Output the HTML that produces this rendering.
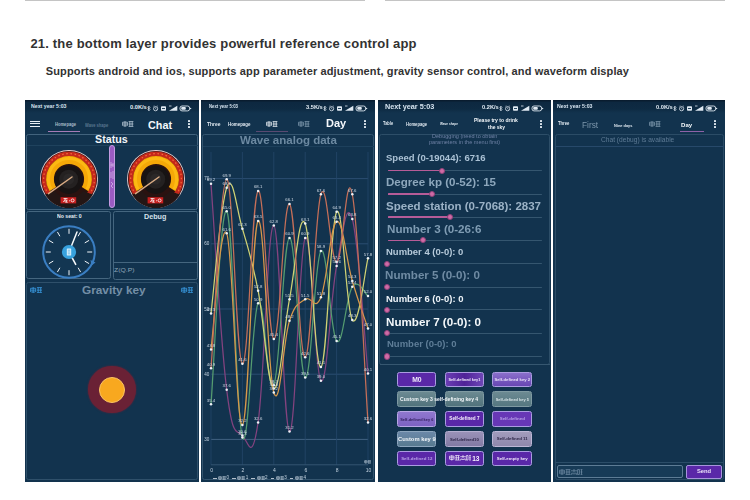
<!DOCTYPE html>
<html><head><meta charset="utf-8">
<style>
*{margin:0;padding:0;box-sizing:border-box}
html,body{width:750px;height:500px;overflow:hidden;background:#fff;font-family:"Liberation Sans",sans-serif}
#h1{position:absolute;left:30.4px;top:36.1px;font-size:13px;font-weight:bold;color:#323232;white-space:nowrap;line-height:16px;letter-spacing:0.19px}
#h2{position:absolute;left:45.8px;top:63.9px;font-size:11px;font-weight:bold;color:#323232;white-space:nowrap;line-height:14px;letter-spacing:0.13px}
.tl{position:absolute;top:0;height:1.2px;background:#c4c4c4}
.ph{position:absolute;top:100px;height:381.5px;background:#12334e}
.r{position:absolute;display:block}
.t{position:absolute;display:block;white-space:nowrap;font-weight:bold;transform-origin:0 50%}
</style></head><body>
<div class="tl" style="left:25px;width:340px"></div>
<div class="tl" style="left:385px;width:340px"></div>
<div id="h1">21. the bottom layer provides powerful reference control app</div>
<div id="h2">Supports android and ios, supports app parameter adjustment, gravity sensor control, and waveform display</div>

<div id="phones" style="position:absolute;left:0;top:90px;width:750px;height:410px;filter:blur(0.45px)"><div style="position:absolute;left:0;top:-90px;width:750px;height:500px">
<div class="ph" style="left:25px;width:173.70px"></div>
<div class="ph" style="left:201.3px;width:173.90px"></div>
<div class="ph" style="left:377.8px;width:173.40px"></div>
<div class="ph" style="left:553px;width:171.80px"></div>
<div class="r" style="left:25.00px;top:100.00px;width:173.70px;height:13.00px;background:linear-gradient(#08192a 0,#0d2840 2.5px,#0e2b43 70%,#12334e 100%);"></div>
<span class="t" style="left:31.00px;top:103.86px;font-size:5.6px;line-height:5.6px;color:#d5e3ef;transform:scaleX(0.9348);">Next year 5:03</span>
<span class="t" style="left:130.00px;top:105.09px;font-size:5.8px;line-height:5.8px;color:#e4edf5;transform:scaleX(0.9832);">0.0K/s</span>
<svg class="r" style="left:147.30px;top:104.8px" width="46" height="7" viewBox="0 0 46 7"><path d="M0.6 2L3 4.6L1.7 6V1L3 2.4L0.6 5" stroke="#dfe9f2" stroke-width="0.7" fill="none"/><circle cx="8.6" cy="3.7" r="2.1" stroke="#dfe9f2" stroke-width="0.8" fill="none"/><path d="M8.6 2.5V3.8L9.5 4.3M6.4 1.3L7.3 0.6M10.8 1.3L9.9 0.6" stroke="#dfe9f2" stroke-width="0.6" fill="none"/><rect x="14" y="1.2" width="5" height="4.6" rx="0.8" fill="#dfe9f2"/><path d="M15 3.5H18" stroke="#12334e" stroke-width="0.9"/><path d="M22 5.8L30.3 0.8V5.8Z" fill="#dfe9f2"/><path d="M22 1H24.5" stroke="#dfe9f2" stroke-width="0.8"/><rect x="33" y="1" width="9.6" height="4.9" rx="2" stroke="#dfe9f2" stroke-width="0.9" fill="none"/><rect x="34.2" y="2.1" width="4.6" height="2.7" rx="1" fill="#dfe9f2"/><path d="M42.8 2.4L44.6 3.5L42.8 4.6Z" fill="#dfe9f2"/></svg>
<div class="r" style="left:30.30px;top:120.60px;width:9.70px;height:1.15px;background:#e6eef5;"></div>
<div class="r" style="left:30.30px;top:123.30px;width:9.70px;height:1.15px;background:#e6eef5;"></div>
<div class="r" style="left:30.30px;top:126.00px;width:9.70px;height:1.15px;background:#e6eef5;"></div>
<span class="t" style="left:55.00px;top:123.21px;font-size:4.6px;line-height:4.6px;color:#a9bccb;transform:scaleX(0.8930);">Homepage</span>
<span class="t" style="left:84.50px;top:123.61px;font-size:4.6px;line-height:4.6px;color:#58768f;transform:scaleX(0.8820);">Wave shape</span>
<svg class="r" style="left:122.00px;top:120.60px;opacity:1" width="12.00" height="6.00" viewBox="0 0 20 10"><path transform="translate(0,0)" d="M1 2H9M5 0V10M1 5H9M2 8H8M1 2V8M9 2V8" stroke="#b9cad8" stroke-width="1.3" fill="none"/><path transform="translate(10,0)" d="M1 1H9M3 1V9M7 1V9M1 5H9M1 9H9" stroke="#b9cad8" stroke-width="1.3" fill="none"/></svg>
<span class="t" style="left:147.90px;top:118.98px;font-size:11.6px;line-height:11.6px;color:#f4f8fb;transform:scaleX(0.9311);">Chat</span>
<div class="r" style="left:188.10px;top:120.00px;width:1.80px;height:1.80px;background:#e8eff6;border-radius:0.4px"></div>
<div class="r" style="left:188.10px;top:123.00px;width:1.80px;height:1.80px;background:#e8eff6;border-radius:0.4px"></div>
<div class="r" style="left:188.10px;top:126.00px;width:1.80px;height:1.80px;background:#e8eff6;border-radius:0.4px"></div>
<div class="r" style="left:47.80px;top:131.20px;width:31.90px;height:1.10px;background:#a57bb6;"></div>
<div class="r" style="left:26.00px;top:133.80px;width:172.00px;height:76.40px;border:0.9px solid #42637d;border-radius:2.5px;"></div>
<div class="r" style="left:26.50px;top:144.90px;width:171.00px;height:0.60px;background:#1f425d;"></div>
<span class="t" style="left:95.00px;top:133.89px;font-size:11px;line-height:11px;color:#f2f6fa;transform:scaleX(0.9728);">Status</span>
<svg class="r" style="left:37.60px;top:147.70px" width="62" height="62" viewBox="-31 -31 62 62"><circle r="29" fill="#e9cfd2"/><circle r="28.1" fill="#2a1210"/><path d="M-19.51 15.80A25.1 25.1 0 1 1 19.51 15.80" stroke="#c5281b" stroke-width="4.6" fill="none"/><path d="M-20.29 15.29A25.4 25.4 0 1 1 20.29 15.29" stroke="#f0683a" stroke-width="1.3" fill="none" stroke-dasharray="1.5 2.6"/><path d="M-16.11 10.07A19.0 19.0 0 1 1 16.11 10.07" stroke="#f5a808" stroke-width="7.8" fill="none"/><path d="M-17.84 10.30A20.6 20.6 0 1 1 17.84 10.30" stroke="#fdb913" stroke-width="3" fill="none"/><circle cx="-0.3" cy="0.8" r="14.1" fill="#171313"/><circle cx="-0.3" cy="0.2" r="9.5" fill="#242121"/><circle cx="-0.3" cy="0" r="5.5" fill="#2b2828"/><path d="M-14 12L-24 15.5A28 28 0 0 0 24 15.5L14 12A17 17 0 0 1 -14 12Z" fill="#241615"/><path d="M3 -2L-20.5 14.6" stroke="#d9ab84" stroke-width="1.5" stroke-linecap="round"/><rect x="-8.4" y="18.2" width="15.6" height="6.2" fill="#c7201f"/><path d="M-5.5 19.5H-1.5M-4 19V23M-5.8 23L-3.8 20.5M-3.6 21.2H-1.4M-2.5 21.2V23.2M-3.8 23.2H-1.2" stroke="#fff" stroke-width="0.7" fill="none"/><circle cx="0.6" cy="21.8" r="0.5" fill="#fff"/><circle cx="3.6" cy="21.4" r="1.5" stroke="#fff" stroke-width="0.8" fill="none"/></svg>
<svg class="r" style="left:124.60px;top:147.80px" width="62" height="62" viewBox="-31 -31 62 62"><circle r="29" fill="#e9cfd2"/><circle r="28.1" fill="#2a1210"/><path d="M-19.51 15.80A25.1 25.1 0 1 1 19.51 15.80" stroke="#c5281b" stroke-width="4.6" fill="none"/><path d="M-20.29 15.29A25.4 25.4 0 1 1 20.29 15.29" stroke="#f0683a" stroke-width="1.3" fill="none" stroke-dasharray="1.5 2.6"/><path d="M-16.11 10.07A19.0 19.0 0 1 1 16.11 10.07" stroke="#f5a808" stroke-width="7.8" fill="none"/><path d="M-17.84 10.30A20.6 20.6 0 1 1 17.84 10.30" stroke="#fdb913" stroke-width="3" fill="none"/><circle cx="-0.3" cy="0.8" r="14.1" fill="#171313"/><circle cx="-0.3" cy="0.2" r="9.5" fill="#242121"/><circle cx="-0.3" cy="0" r="5.5" fill="#2b2828"/><path d="M-14 12L-24 15.5A28 28 0 0 0 24 15.5L14 12A17 17 0 0 1 -14 12Z" fill="#241615"/><path d="M3 -2L-20.5 14.6" stroke="#d9ab84" stroke-width="1.5" stroke-linecap="round"/><rect x="-8.4" y="18.2" width="15.6" height="6.2" fill="#c7201f"/><path d="M-5.5 19.5H-1.5M-4 19V23M-5.8 23L-3.8 20.5M-3.6 21.2H-1.4M-2.5 21.2V23.2M-3.8 23.2H-1.2" stroke="#fff" stroke-width="0.7" fill="none"/><circle cx="0.6" cy="21.8" r="0.5" fill="#fff"/><circle cx="3.6" cy="21.4" r="1.5" stroke="#fff" stroke-width="0.8" fill="none"/></svg>
<div class="r" style="left:108.90px;top:145.30px;width:6.50px;height:63.20px;background:#9a5bc2;border-radius:3.2px;border:0.7px solid #c49be2"></div>
<svg class="r" style="left:110.2px;top:160px" width="4" height="30" viewBox="0 0 4 30"><path d="M1 2V8M3 3V7M0.5 5H3.5M1 12V18M3 11V19M1 22L3 24L1 26L3 28" stroke="#e6d3f3" stroke-width="0.7" fill="none" opacity="0.85"/></svg>
<div class="r" style="left:26.00px;top:210.80px;width:85.00px;height:68.60px;border:0.9px solid #45667f;border-radius:2.5px;"></div>
<div class="r" style="left:113.00px;top:210.80px;width:85.20px;height:69.30px;border:0.9px solid #45667f;border-radius:2.5px;"></div>
<span class="t" style="left:57.30px;top:214.36px;font-size:5.6px;line-height:5.6px;color:#e9f0f6;transform:scaleX(0.9230);">No seat: 0</span>
<span class="t" style="left:144.40px;top:213.28px;font-size:7.7px;line-height:7.7px;color:#d6e2ec;transform:scaleX(0.9352);">Debug</span>
<div class="r" style="left:113.50px;top:262.20px;width:84.50px;height:0.90px;background:#45667f;"></div>
<span class="t" style="left:114.00px;top:267.96px;font-size:5.6px;line-height:5.6px;color:#8ea5b8;font-weight:normal;transform:scaleX(1.2205);">Z(Q.P)</span>
<svg class="r" style="left:38.70px;top:221.60px" width="60" height="60" viewBox="-30 -30 60 60"><circle r="25.8" stroke="#3a7ec2" stroke-width="2" fill="#133652"/><path d="M0.00 -18.20L0.00 -23.20" stroke="#f1f5f9" stroke-width="1"/><path d="M9.10 -15.76L11.60 -20.09" stroke="#f1f5f9" stroke-width="1"/><path d="M15.76 -9.10L20.09 -11.60" stroke="#f1f5f9" stroke-width="1"/><path d="M18.20 -0.00L23.20 -0.00" stroke="#f1f5f9" stroke-width="1"/><path d="M15.76 9.10L20.09 11.60" stroke="#f1f5f9" stroke-width="1"/><path d="M9.10 15.76L11.60 20.09" stroke="#f1f5f9" stroke-width="1"/><path d="M0.00 18.20L0.00 23.20" stroke="#f1f5f9" stroke-width="1"/><path d="M-9.10 15.76L-11.60 20.09" stroke="#f1f5f9" stroke-width="1"/><path d="M-15.76 9.10L-20.09 11.60" stroke="#f1f5f9" stroke-width="1"/><path d="M-18.20 0.00L-23.20 0.00" stroke="#f1f5f9" stroke-width="1"/><path d="M-15.76 -9.10L-20.09 -11.60" stroke="#f1f5f9" stroke-width="1"/><path d="M-9.10 -15.76L-11.60 -20.09" stroke="#f1f5f9" stroke-width="1"/><path d="M0 0L8 -20" stroke="#f7fafc" stroke-width="1.5" stroke-linecap="round"/><path d="M0 0L6.7 12.3" stroke="#f7fafc" stroke-width="1.6" stroke-linecap="round"/><circle r="7.1" fill="#38a2de"/><rect x="-2.2" y="-3.6" width="4.4" height="7.2" rx="0.6" fill="#d9f0fb"/><path d="M-1.2 -1.8H1.2M-1.2 0H1.2M-1.2 1.8H1.2" stroke="#38a2de" stroke-width="0.6"/><path d="M21.5 8L26.5 10.5L22.5 13.5Z" fill="#3a7ec2"/></svg>
<div class="r" style="left:26.00px;top:281.60px;width:172.00px;height:198.60px;border:0.9px solid #2f506a;border-radius:2.5px;"></div>
<svg class="r" style="left:29.80px;top:287.00px;opacity:1" width="12.60" height="6.30" viewBox="0 0 20 10"><path transform="translate(0,0)" d="M1 2H9M5 0V10M1 5H9M2 8H8M1 2V8M9 2V8" stroke="#3a9be2" stroke-width="1.3" fill="none"/><path transform="translate(10,0)" d="M1 1H9M3 1V9M7 1V9M1 5H9M1 9H9" stroke="#3a9be2" stroke-width="1.3" fill="none"/></svg>
<svg class="r" style="left:181.40px;top:287.00px;opacity:1" width="12.60" height="6.30" viewBox="0 0 20 10"><path transform="translate(0,0)" d="M1 2H9M5 0V10M1 5H9M2 8H8M1 2V8M9 2V8" stroke="#3a9be2" stroke-width="1.3" fill="none"/><path transform="translate(10,0)" d="M1 1H9M3 1V9M7 1V9M1 5H9M1 9H9" stroke="#3a9be2" stroke-width="1.3" fill="none"/></svg>
<span class="t" style="left:81.60px;top:284.48px;font-size:11.6px;line-height:11.6px;color:#748fa6;transform:scaleX(1.0184);">Gravity key</span>
<div class="r" style="left:88.40px;top:366.20px;width:47.20px;height:47.20px;background:#6a2135;border-radius:50%;box-shadow:0 0 2px #6a2135"></div>
<div class="r" style="left:98.90px;top:377.00px;width:26.20px;height:26.20px;background:#f8a81f;border-radius:50%;border:0.8px solid #fbc463"></div>
<div class="r" style="left:201.30px;top:100.00px;width:173.90px;height:13.00px;background:linear-gradient(#08192a 0,#0d2840 2.5px,#0e2b43 70%,#12334e 100%);"></div>
<span class="t" style="left:209.00px;top:104.71px;font-size:4.6px;line-height:4.6px;color:#d5e3ef;transform:scaleX(0.9296);">Next year 5:03</span>
<span class="t" style="left:305.50px;top:105.09px;font-size:5.8px;line-height:5.8px;color:#e4edf5;transform:scaleX(0.9832);">3.5K/s</span>
<svg class="r" style="left:322.80px;top:104.8px" width="46" height="7" viewBox="0 0 46 7"><path d="M0.6 2L3 4.6L1.7 6V1L3 2.4L0.6 5" stroke="#dfe9f2" stroke-width="0.7" fill="none"/><circle cx="8.6" cy="3.7" r="2.1" stroke="#dfe9f2" stroke-width="0.8" fill="none"/><path d="M8.6 2.5V3.8L9.5 4.3M6.4 1.3L7.3 0.6M10.8 1.3L9.9 0.6" stroke="#dfe9f2" stroke-width="0.6" fill="none"/><rect x="14" y="1.2" width="5" height="4.6" rx="0.8" fill="#dfe9f2"/><path d="M15 3.5H18" stroke="#12334e" stroke-width="0.9"/><path d="M22 5.8L30.3 0.8V5.8Z" fill="#dfe9f2"/><path d="M22 1H24.5" stroke="#dfe9f2" stroke-width="0.8"/><rect x="33" y="1" width="9.6" height="4.9" rx="2" stroke="#dfe9f2" stroke-width="0.9" fill="none"/><rect x="34.2" y="2.1" width="4.6" height="2.7" rx="1" fill="#dfe9f2"/><path d="M42.8 2.4L44.6 3.5L42.8 4.6Z" fill="#dfe9f2"/></svg>
<span class="t" style="left:207.00px;top:121.96px;font-size:5.6px;line-height:5.6px;color:#dfe8f0;transform:scaleX(0.8788);">Three</span>
<span class="t" style="left:227.60px;top:122.54px;font-size:4.8px;line-height:4.8px;color:#dfe8f0;transform:scaleX(0.9129);">Homepage</span>
<svg class="r" style="left:266.00px;top:120.60px;opacity:1" width="12.00" height="6.00" viewBox="0 0 20 10"><path transform="translate(0,0)" d="M1 2H9M5 0V10M1 5H9M2 8H8M1 2V8M9 2V8" stroke="#eef3f8" stroke-width="1.3" fill="none"/><path transform="translate(10,0)" d="M1 1H9M3 1V9M7 1V9M1 5H9M1 9H9" stroke="#eef3f8" stroke-width="1.3" fill="none"/></svg>
<svg class="r" style="left:298.00px;top:120.80px;opacity:1" width="12.00" height="6.00" viewBox="0 0 20 10"><path transform="translate(0,0)" d="M1 2H9M5 0V10M1 5H9M2 8H8M1 2V8M9 2V8" stroke="#7f99ae" stroke-width="1.3" fill="none"/><path transform="translate(10,0)" d="M1 1H9M3 1V9M7 1V9M1 5H9M1 9H9" stroke="#7f99ae" stroke-width="1.3" fill="none"/></svg>
<span class="t" style="left:325.50px;top:118.12px;font-size:11.2px;line-height:11.2px;color:#f6f9fc;transform:scaleX(0.9832);">Day</span>
<div class="r" style="left:364.00px;top:120.00px;width:1.80px;height:1.80px;background:#e8eff6;border-radius:0.4px"></div>
<div class="r" style="left:364.00px;top:123.00px;width:1.80px;height:1.80px;background:#e8eff6;border-radius:0.4px"></div>
<div class="r" style="left:364.00px;top:126.00px;width:1.80px;height:1.80px;background:#e8eff6;border-radius:0.4px"></div>
<div class="r" style="left:256.40px;top:131.20px;width:31.20px;height:1.10px;background:#5a4a72;"></div>
<div class="r" style="left:202.20px;top:133.80px;width:172.00px;height:346.50px;border:0.9px solid #34556f;border-radius:2.5px;"></div>
<div class="r" style="left:202.80px;top:146.20px;width:171.00px;height:0.60px;background:#1d405c;"></div>
<span class="t" style="left:240.00px;top:134.69px;font-size:11px;line-height:11px;color:#6c89a1;transform:scaleX(1.0465);">Wave analog data</span>
<svg class="r" style="left:0;top:0" width="750" height="500" viewBox="0 0 750 500"><path d="M211.0 439.40H368.0" stroke="#4c6f8e" stroke-width="0.8"/><path d="M211.0 374.20H368.0" stroke="#31547a" stroke-width="0.8"/><path d="M211.0 309.00H368.0" stroke="#31547a" stroke-width="0.8"/><path d="M211.0 243.80H368.0" stroke="#31547a" stroke-width="0.8"/><path d="M211.0 178.60H368.0" stroke="#31547a" stroke-width="0.8"/><path d="M211.00 152V464.8" stroke="#24476a" stroke-width="0.8"/><path d="M242.40 152V464.8" stroke="#24476a" stroke-width="0.8"/><path d="M273.80 152V464.8" stroke="#24476a" stroke-width="0.8"/><path d="M305.20 152V464.8" stroke="#24476a" stroke-width="0.8"/><path d="M336.60 152V464.8" stroke="#24476a" stroke-width="0.8"/><path d="M368.00 152V464.8" stroke="#24476a" stroke-width="0.8"/><path d="M211.0 464.8H368.0" stroke="#3c5d7a" stroke-width="0.8"/><path d="M211.00 183.82C214.14 225.02 220.42 339.51 226.70 389.85C232.98 440.18 236.12 428.97 242.40 435.49C248.68 442.01 251.82 464.44 258.10 422.45C264.38 380.46 267.52 223.72 273.80 225.54C280.08 227.37 283.22 429.10 289.50 431.58C295.78 434.05 298.92 248.10 305.20 237.93C311.48 227.76 314.62 375.11 320.90 380.72C327.18 386.33 330.32 298.31 336.60 265.97C342.88 233.63 346.02 197.51 352.30 219.02C358.58 240.54 364.86 342.64 368.00 373.55" stroke="#84437f" stroke-width="1.25" fill="none" stroke-linejoin="round"/><path d="M211.00 404.19C214.14 365.59 220.42 204.55 226.70 211.20C232.98 217.85 236.12 419.06 242.40 437.44C248.68 455.83 251.82 313.56 258.10 303.13C264.38 292.70 267.52 398.32 273.80 385.28C280.08 372.24 283.22 239.50 289.50 237.93C295.78 236.37 298.92 374.85 305.20 377.46C311.48 380.07 314.62 258.27 320.90 250.97C327.18 243.67 330.32 333.78 336.60 340.95C342.88 348.12 346.02 295.83 352.30 286.83C358.58 277.83 364.86 294.13 368.00 295.96" stroke="#559c70" stroke-width="1.25" fill="none" stroke-linejoin="round"/><path d="M211.00 313.56C214.14 288.40 220.42 204.68 226.70 187.73C232.98 170.78 236.12 208.20 242.40 228.80C248.68 249.41 251.82 258.80 258.10 290.74C264.38 322.69 267.52 386.85 273.80 388.54C280.08 390.24 283.22 332.21 289.50 299.22C295.78 266.23 298.92 210.03 305.20 223.59C311.48 237.15 314.62 369.38 320.90 367.03C327.18 364.68 330.32 221.24 336.60 211.85C342.88 202.46 346.02 310.83 352.30 320.08C358.58 329.34 364.86 270.53 368.00 258.14" stroke="#d0d274" stroke-width="1.25" fill="none" stroke-linejoin="round"/><path d="M211.00 349.42C214.14 326.21 220.42 218.24 226.70 233.37C232.98 248.49 236.12 427.53 242.40 425.06C248.68 422.58 251.82 227.50 258.10 220.98C264.38 214.46 267.52 372.50 273.80 392.46C280.08 412.41 283.22 339.38 289.50 320.74C295.78 302.09 298.92 303.91 305.20 299.22C311.48 294.53 314.62 312.78 320.90 297.26C327.18 281.75 330.32 224.89 336.60 221.63C342.88 218.37 346.02 259.58 352.30 280.96C358.58 302.35 364.86 319.04 368.00 328.56" stroke="#d8984a" stroke-width="1.25" fill="none" stroke-linejoin="round"/><path d="M211.00 368.33C214.14 330.52 220.42 180.16 226.70 179.25C232.98 178.34 236.12 361.42 242.40 363.77C248.68 366.12 251.82 195.94 258.10 190.99C264.38 186.03 267.52 336.38 273.80 338.99C280.08 341.60 283.22 200.38 289.50 204.03C295.78 207.68 298.92 359.20 305.20 357.25C311.48 355.29 314.62 213.29 320.90 194.25C327.18 175.21 330.32 262.06 336.60 262.06C342.88 262.06 346.02 162.17 352.30 194.25C358.58 226.33 364.86 376.81 368.00 422.45" stroke="#c66f58" stroke-width="1.25" fill="none" stroke-linejoin="round"/><circle cx="211.00" cy="183.82" r="1.25" fill="#eef2f6"/><circle cx="226.70" cy="389.85" r="1.25" fill="#eef2f6"/><circle cx="242.40" cy="435.49" r="1.25" fill="#eef2f6"/><circle cx="258.10" cy="422.45" r="1.25" fill="#eef2f6"/><circle cx="273.80" cy="225.54" r="1.25" fill="#eef2f6"/><circle cx="289.50" cy="431.58" r="1.25" fill="#eef2f6"/><circle cx="305.20" cy="237.93" r="1.25" fill="#eef2f6"/><circle cx="320.90" cy="380.72" r="1.25" fill="#eef2f6"/><circle cx="336.60" cy="265.97" r="1.25" fill="#eef2f6"/><circle cx="352.30" cy="219.02" r="1.25" fill="#eef2f6"/><circle cx="368.00" cy="373.55" r="1.25" fill="#eef2f6"/><circle cx="211.00" cy="404.19" r="1.25" fill="#eef2f6"/><circle cx="226.70" cy="211.20" r="1.25" fill="#eef2f6"/><circle cx="242.40" cy="437.44" r="1.25" fill="#eef2f6"/><circle cx="258.10" cy="303.13" r="1.25" fill="#eef2f6"/><circle cx="273.80" cy="385.28" r="1.25" fill="#eef2f6"/><circle cx="289.50" cy="237.93" r="1.25" fill="#eef2f6"/><circle cx="305.20" cy="377.46" r="1.25" fill="#eef2f6"/><circle cx="320.90" cy="250.97" r="1.25" fill="#eef2f6"/><circle cx="336.60" cy="340.95" r="1.25" fill="#eef2f6"/><circle cx="352.30" cy="286.83" r="1.25" fill="#eef2f6"/><circle cx="368.00" cy="295.96" r="1.25" fill="#eef2f6"/><circle cx="211.00" cy="313.56" r="1.25" fill="#eef2f6"/><circle cx="226.70" cy="187.73" r="1.25" fill="#eef2f6"/><circle cx="242.40" cy="228.80" r="1.25" fill="#eef2f6"/><circle cx="258.10" cy="290.74" r="1.25" fill="#eef2f6"/><circle cx="273.80" cy="388.54" r="1.25" fill="#eef2f6"/><circle cx="289.50" cy="299.22" r="1.25" fill="#eef2f6"/><circle cx="305.20" cy="223.59" r="1.25" fill="#eef2f6"/><circle cx="320.90" cy="367.03" r="1.25" fill="#eef2f6"/><circle cx="336.60" cy="211.85" r="1.25" fill="#eef2f6"/><circle cx="352.30" cy="320.08" r="1.25" fill="#eef2f6"/><circle cx="368.00" cy="258.14" r="1.25" fill="#eef2f6"/><circle cx="211.00" cy="349.42" r="1.25" fill="#eef2f6"/><circle cx="226.70" cy="233.37" r="1.25" fill="#eef2f6"/><circle cx="242.40" cy="425.06" r="1.25" fill="#eef2f6"/><circle cx="258.10" cy="220.98" r="1.25" fill="#eef2f6"/><circle cx="273.80" cy="392.46" r="1.25" fill="#eef2f6"/><circle cx="289.50" cy="320.74" r="1.25" fill="#eef2f6"/><circle cx="305.20" cy="299.22" r="1.25" fill="#eef2f6"/><circle cx="320.90" cy="297.26" r="1.25" fill="#eef2f6"/><circle cx="336.60" cy="221.63" r="1.25" fill="#eef2f6"/><circle cx="352.30" cy="280.96" r="1.25" fill="#eef2f6"/><circle cx="368.00" cy="328.56" r="1.25" fill="#eef2f6"/><circle cx="211.00" cy="368.33" r="1.25" fill="#eef2f6"/><circle cx="226.70" cy="179.25" r="1.25" fill="#eef2f6"/><circle cx="242.40" cy="363.77" r="1.25" fill="#eef2f6"/><circle cx="258.10" cy="190.99" r="1.25" fill="#eef2f6"/><circle cx="273.80" cy="338.99" r="1.25" fill="#eef2f6"/><circle cx="289.50" cy="204.03" r="1.25" fill="#eef2f6"/><circle cx="305.20" cy="357.25" r="1.25" fill="#eef2f6"/><circle cx="320.90" cy="194.25" r="1.25" fill="#eef2f6"/><circle cx="336.60" cy="262.06" r="1.25" fill="#eef2f6"/><circle cx="352.30" cy="194.25" r="1.25" fill="#eef2f6"/><circle cx="368.00" cy="422.45" r="1.25" fill="#eef2f6"/><text x="211.00" y="181.22" font-size="4.3" fill="#d3dde8" text-anchor="middle" font-family="Liberation Sans">69.2</text><text x="226.70" y="387.25" font-size="4.3" fill="#d3dde8" text-anchor="middle" font-family="Liberation Sans">37.6</text><text x="242.40" y="432.89" font-size="4.3" fill="#d3dde8" text-anchor="middle" font-family="Liberation Sans">30.6</text><text x="258.10" y="419.85" font-size="4.3" fill="#d3dde8" text-anchor="middle" font-family="Liberation Sans">32.6</text><text x="273.80" y="222.94" font-size="4.3" fill="#d3dde8" text-anchor="middle" font-family="Liberation Sans">62.8</text><text x="289.50" y="428.98" font-size="4.3" fill="#d3dde8" text-anchor="middle" font-family="Liberation Sans">31.2</text><text x="305.20" y="235.33" font-size="4.3" fill="#d3dde8" text-anchor="middle" font-family="Liberation Sans">60.9</text><text x="320.90" y="378.12" font-size="4.3" fill="#d3dde8" text-anchor="middle" font-family="Liberation Sans">39.0</text><text x="336.60" y="263.37" font-size="4.3" fill="#d3dde8" text-anchor="middle" font-family="Liberation Sans">56.6</text><text x="352.30" y="216.42" font-size="4.3" fill="#d3dde8" text-anchor="middle" font-family="Liberation Sans">63.8</text><text x="368.00" y="370.95" font-size="4.3" fill="#d3dde8" text-anchor="middle" font-family="Liberation Sans">40.1</text><text x="211.00" y="401.59" font-size="4.3" fill="#d3dde8" text-anchor="middle" font-family="Liberation Sans">35.4</text><text x="226.70" y="208.60" font-size="4.3" fill="#d3dde8" text-anchor="middle" font-family="Liberation Sans">65.0</text><text x="242.40" y="434.84" font-size="4.3" fill="#d3dde8" text-anchor="middle" font-family="Liberation Sans">30.3</text><text x="258.10" y="300.53" font-size="4.3" fill="#d3dde8" text-anchor="middle" font-family="Liberation Sans">50.9</text><text x="273.80" y="382.68" font-size="4.3" fill="#d3dde8" text-anchor="middle" font-family="Liberation Sans">38.3</text><text x="289.50" y="235.33" font-size="4.3" fill="#d3dde8" text-anchor="middle" font-family="Liberation Sans">60.9</text><text x="305.20" y="374.86" font-size="4.3" fill="#d3dde8" text-anchor="middle" font-family="Liberation Sans">39.5</text><text x="320.90" y="248.37" font-size="4.3" fill="#d3dde8" text-anchor="middle" font-family="Liberation Sans">58.9</text><text x="336.60" y="338.35" font-size="4.3" fill="#d3dde8" text-anchor="middle" font-family="Liberation Sans">45.1</text><text x="352.30" y="284.23" font-size="4.3" fill="#d3dde8" text-anchor="middle" font-family="Liberation Sans">53.4</text><text x="368.00" y="293.36" font-size="4.3" fill="#d3dde8" text-anchor="middle" font-family="Liberation Sans">52.0</text><text x="211.00" y="310.96" font-size="4.3" fill="#d3dde8" text-anchor="middle" font-family="Liberation Sans">49.3</text><text x="226.70" y="185.13" font-size="4.3" fill="#d3dde8" text-anchor="middle" font-family="Liberation Sans">68.6</text><text x="242.40" y="226.20" font-size="4.3" fill="#d3dde8" text-anchor="middle" font-family="Liberation Sans">62.3</text><text x="258.10" y="288.14" font-size="4.3" fill="#d3dde8" text-anchor="middle" font-family="Liberation Sans">52.8</text><text x="273.80" y="385.94" font-size="4.3" fill="#d3dde8" text-anchor="middle" font-family="Liberation Sans">37.8</text><text x="289.50" y="296.62" font-size="4.3" fill="#d3dde8" text-anchor="middle" font-family="Liberation Sans">51.5</text><text x="305.20" y="220.99" font-size="4.3" fill="#d3dde8" text-anchor="middle" font-family="Liberation Sans">63.1</text><text x="320.90" y="364.43" font-size="4.3" fill="#d3dde8" text-anchor="middle" font-family="Liberation Sans">41.1</text><text x="336.60" y="209.25" font-size="4.3" fill="#d3dde8" text-anchor="middle" font-family="Liberation Sans">64.9</text><text x="352.30" y="317.48" font-size="4.3" fill="#d3dde8" text-anchor="middle" font-family="Liberation Sans">48.3</text><text x="368.00" y="255.54" font-size="4.3" fill="#d3dde8" text-anchor="middle" font-family="Liberation Sans">57.8</text><text x="211.00" y="346.82" font-size="4.3" fill="#d3dde8" text-anchor="middle" font-family="Liberation Sans">43.8</text><text x="226.70" y="230.77" font-size="4.3" fill="#d3dde8" text-anchor="middle" font-family="Liberation Sans">61.6</text><text x="242.40" y="422.46" font-size="4.3" fill="#d3dde8" text-anchor="middle" font-family="Liberation Sans">32.2</text><text x="258.10" y="218.38" font-size="4.3" fill="#d3dde8" text-anchor="middle" font-family="Liberation Sans">63.5</text><text x="273.80" y="389.86" font-size="4.3" fill="#d3dde8" text-anchor="middle" font-family="Liberation Sans">37.2</text><text x="289.50" y="318.14" font-size="4.3" fill="#d3dde8" text-anchor="middle" font-family="Liberation Sans">48.2</text><text x="305.20" y="296.62" font-size="4.3" fill="#d3dde8" text-anchor="middle" font-family="Liberation Sans">51.5</text><text x="320.90" y="294.66" font-size="4.3" fill="#d3dde8" text-anchor="middle" font-family="Liberation Sans">51.8</text><text x="336.60" y="219.03" font-size="4.3" fill="#d3dde8" text-anchor="middle" font-family="Liberation Sans">63.4</text><text x="352.30" y="278.36" font-size="4.3" fill="#d3dde8" text-anchor="middle" font-family="Liberation Sans">54.3</text><text x="368.00" y="325.96" font-size="4.3" fill="#d3dde8" text-anchor="middle" font-family="Liberation Sans">47.0</text><text x="211.00" y="365.73" font-size="4.3" fill="#d3dde8" text-anchor="middle" font-family="Liberation Sans">40.9</text><text x="226.70" y="176.65" font-size="4.3" fill="#d3dde8" text-anchor="middle" font-family="Liberation Sans">69.9</text><text x="242.40" y="361.17" font-size="4.3" fill="#d3dde8" text-anchor="middle" font-family="Liberation Sans">41.6</text><text x="258.10" y="188.39" font-size="4.3" fill="#d3dde8" text-anchor="middle" font-family="Liberation Sans">68.1</text><text x="273.80" y="336.39" font-size="4.3" fill="#d3dde8" text-anchor="middle" font-family="Liberation Sans">45.4</text><text x="289.50" y="201.43" font-size="4.3" fill="#d3dde8" text-anchor="middle" font-family="Liberation Sans">66.1</text><text x="305.20" y="354.65" font-size="4.3" fill="#d3dde8" text-anchor="middle" font-family="Liberation Sans">42.6</text><text x="320.90" y="191.65" font-size="4.3" fill="#d3dde8" text-anchor="middle" font-family="Liberation Sans">67.6</text><text x="336.60" y="259.46" font-size="4.3" fill="#d3dde8" text-anchor="middle" font-family="Liberation Sans">57.2</text><text x="352.30" y="191.65" font-size="4.3" fill="#d3dde8" text-anchor="middle" font-family="Liberation Sans">67.6</text><text x="368.00" y="419.85" font-size="4.3" fill="#d3dde8" text-anchor="middle" font-family="Liberation Sans">32.6</text><text x="209.40" y="441.00" font-size="4.6" fill="#c4d3e0" text-anchor="end" font-family="Liberation Sans">30</text><text x="209.40" y="375.80" font-size="4.6" fill="#c4d3e0" text-anchor="end" font-family="Liberation Sans">40</text><text x="209.40" y="310.60" font-size="4.6" fill="#c4d3e0" text-anchor="end" font-family="Liberation Sans">50</text><text x="209.40" y="245.40" font-size="4.6" fill="#c4d3e0" text-anchor="end" font-family="Liberation Sans">60</text><text x="209.40" y="180.20" font-size="4.6" fill="#c4d3e0" text-anchor="end" font-family="Liberation Sans">70</text><text x="211.60" y="472" font-size="5" fill="#c4d3e0" text-anchor="middle" font-family="Liberation Sans">0</text><text x="243.00" y="472" font-size="5" fill="#c4d3e0" text-anchor="middle" font-family="Liberation Sans">2</text><text x="274.40" y="472" font-size="5" fill="#c4d3e0" text-anchor="middle" font-family="Liberation Sans">4</text><text x="305.80" y="472" font-size="5" fill="#c4d3e0" text-anchor="middle" font-family="Liberation Sans">6</text><text x="337.20" y="472" font-size="5" fill="#c4d3e0" text-anchor="middle" font-family="Liberation Sans">8</text><text x="368.60" y="472" font-size="5" fill="#c4d3e0" text-anchor="middle" font-family="Liberation Sans">10</text></svg>
<svg class="r" style="left:363.50px;top:460.20px;opacity:1" width="7.20" height="3.60" viewBox="0 0 20 10"><path transform="translate(0,0)" d="M1 2H9M5 0V10M1 5H9M2 8H8M1 2V8M9 2V8" stroke="#c4d3e0" stroke-width="1.3" fill="none"/><path transform="translate(10,0)" d="M1 1H9M3 1V9M7 1V9M1 5H9M1 9H9" stroke="#c4d3e0" stroke-width="1.3" fill="none"/></svg>
<div class="r" style="left:213.00px;top:477.60px;width:3.60px;height:0.90px;background:#b4c0cc;"></div>
<svg class="r" style="left:218.20px;top:475.90px;opacity:1" width="8.20" height="4.10" viewBox="0 0 20 10"><path transform="translate(0,0)" d="M1 2H9M5 0V10M1 5H9M2 8H8M1 2V8M9 2V8" stroke="#c4d3e0" stroke-width="1.3" fill="none"/><path transform="translate(10,0)" d="M1 1H9M3 1V9M7 1V9M1 5H9M1 9H9" stroke="#c4d3e0" stroke-width="1.3" fill="none"/></svg>
<span class="t" style="left:226.60px;top:476.21px;font-size:4.6px;line-height:4.6px;color:#c4d3e0;font-weight:normal;">0</span>
<div class="r" style="left:232.20px;top:477.60px;width:3.60px;height:0.90px;background:#b4c0cc;"></div>
<svg class="r" style="left:237.40px;top:475.90px;opacity:1" width="8.20" height="4.10" viewBox="0 0 20 10"><path transform="translate(0,0)" d="M1 2H9M5 0V10M1 5H9M2 8H8M1 2V8M9 2V8" stroke="#c4d3e0" stroke-width="1.3" fill="none"/><path transform="translate(10,0)" d="M1 1H9M3 1V9M7 1V9M1 5H9M1 9H9" stroke="#c4d3e0" stroke-width="1.3" fill="none"/></svg>
<span class="t" style="left:245.80px;top:476.21px;font-size:4.6px;line-height:4.6px;color:#c4d3e0;font-weight:normal;">1</span>
<div class="r" style="left:251.40px;top:477.60px;width:3.60px;height:0.90px;background:#b4c0cc;"></div>
<svg class="r" style="left:256.60px;top:475.90px;opacity:1" width="8.20" height="4.10" viewBox="0 0 20 10"><path transform="translate(0,0)" d="M1 2H9M5 0V10M1 5H9M2 8H8M1 2V8M9 2V8" stroke="#c4d3e0" stroke-width="1.3" fill="none"/><path transform="translate(10,0)" d="M1 1H9M3 1V9M7 1V9M1 5H9M1 9H9" stroke="#c4d3e0" stroke-width="1.3" fill="none"/></svg>
<span class="t" style="left:265.00px;top:476.21px;font-size:4.6px;line-height:4.6px;color:#c4d3e0;font-weight:normal;">2</span>
<div class="r" style="left:270.60px;top:477.60px;width:3.60px;height:0.90px;background:#b4c0cc;"></div>
<svg class="r" style="left:275.80px;top:475.90px;opacity:1" width="8.20" height="4.10" viewBox="0 0 20 10"><path transform="translate(0,0)" d="M1 2H9M5 0V10M1 5H9M2 8H8M1 2V8M9 2V8" stroke="#c4d3e0" stroke-width="1.3" fill="none"/><path transform="translate(10,0)" d="M1 1H9M3 1V9M7 1V9M1 5H9M1 9H9" stroke="#c4d3e0" stroke-width="1.3" fill="none"/></svg>
<span class="t" style="left:284.20px;top:476.21px;font-size:4.6px;line-height:4.6px;color:#c4d3e0;font-weight:normal;">3</span>
<div class="r" style="left:289.80px;top:477.60px;width:3.60px;height:0.90px;background:#b4c0cc;"></div>
<svg class="r" style="left:295.00px;top:475.90px;opacity:1" width="8.20" height="4.10" viewBox="0 0 20 10"><path transform="translate(0,0)" d="M1 2H9M5 0V10M1 5H9M2 8H8M1 2V8M9 2V8" stroke="#c4d3e0" stroke-width="1.3" fill="none"/><path transform="translate(10,0)" d="M1 1H9M3 1V9M7 1V9M1 5H9M1 9H9" stroke="#c4d3e0" stroke-width="1.3" fill="none"/></svg>
<span class="t" style="left:303.40px;top:476.21px;font-size:4.6px;line-height:4.6px;color:#c4d3e0;font-weight:normal;">4</span>
<div class="r" style="left:377.80px;top:100.00px;width:173.40px;height:13.00px;background:linear-gradient(#08192a 0,#0d2840 2.5px,#0e2b43 70%,#12334e 100%);"></div>
<span class="t" style="left:385.00px;top:102.81px;font-size:7.2px;line-height:7.2px;color:#d5e3ef;transform:scaleX(1.0097);">Next year 5:03</span>
<span class="t" style="left:481.50px;top:105.09px;font-size:5.8px;line-height:5.8px;color:#e4edf5;transform:scaleX(0.9832);">0.2K/s</span>
<svg class="r" style="left:498.80px;top:104.8px" width="46" height="7" viewBox="0 0 46 7"><path d="M0.6 2L3 4.6L1.7 6V1L3 2.4L0.6 5" stroke="#dfe9f2" stroke-width="0.7" fill="none"/><circle cx="8.6" cy="3.7" r="2.1" stroke="#dfe9f2" stroke-width="0.8" fill="none"/><path d="M8.6 2.5V3.8L9.5 4.3M6.4 1.3L7.3 0.6M10.8 1.3L9.9 0.6" stroke="#dfe9f2" stroke-width="0.6" fill="none"/><rect x="14" y="1.2" width="5" height="4.6" rx="0.8" fill="#dfe9f2"/><path d="M15 3.5H18" stroke="#12334e" stroke-width="0.9"/><path d="M22 5.8L30.3 0.8V5.8Z" fill="#dfe9f2"/><path d="M22 1H24.5" stroke="#dfe9f2" stroke-width="0.8"/><rect x="33" y="1" width="9.6" height="4.9" rx="2" stroke="#dfe9f2" stroke-width="0.9" fill="none"/><rect x="34.2" y="2.1" width="4.6" height="2.7" rx="1" fill="#dfe9f2"/><path d="M42.8 2.4L44.6 3.5L42.8 4.6Z" fill="#dfe9f2"/></svg>
<span class="t" style="left:383.20px;top:122.31px;font-size:4.6px;line-height:4.6px;color:#dfe8f0;transform:scaleX(0.8653);">Table</span>
<span class="t" style="left:406.00px;top:122.91px;font-size:4.6px;line-height:4.6px;color:#dfe8f0;transform:scaleX(0.8930);">Homepage</span>
<span class="t" style="left:439.60px;top:121.74px;font-size:4.2px;line-height:4.2px;color:#dfe8f0;transform:scaleX(0.7463);">Wave shape</span>
<span class="t" style="left:474.40px;top:118.16px;font-size:5.6px;line-height:5.6px;color:#f3f7fa;transform:scaleX(0.9043);">Please try to drink</span>
<span class="t" style="left:488.00px;top:124.76px;font-size:5.6px;line-height:5.6px;color:#f3f7fa;transform:scaleX(0.8810);">the sky</span>
<div class="r" style="left:540.00px;top:120.00px;width:1.80px;height:1.80px;background:#e8eff6;border-radius:0.4px"></div>
<div class="r" style="left:540.00px;top:123.00px;width:1.80px;height:1.80px;background:#e8eff6;border-radius:0.4px"></div>
<div class="r" style="left:540.00px;top:126.00px;width:1.80px;height:1.80px;background:#e8eff6;border-radius:0.4px"></div>
<div class="r" style="left:379.00px;top:133.80px;width:171.00px;height:231.20px;border:0.9px solid #2d4e68;border-radius:2.5px;"></div>
<span class="t" style="left:431.70px;top:133.83px;font-size:5.4px;line-height:5.4px;color:#6d80a4;font-weight:normal;transform:scaleX(1.0291);">Debugging (need to obtain</span>
<span class="t" style="left:428.80px;top:140.23px;font-size:5.4px;line-height:5.4px;color:#6d80a4;font-weight:normal;transform:scaleX(1.0316);">parameters in the menu first)</span>
<span class="t" style="left:386.00px;top:154.02px;font-size:8.6px;line-height:8.6px;color:#aac1d4;transform:scaleX(1.1095);">Speed (0-19044): 6716</span>
<div class="r" style="left:387.50px;top:170.20px;width:154.00px;height:1.00px;background:#35566f;border-radius:0.5px"></div>
<div class="r" style="left:387.50px;top:170.10px;width:54.50px;height:1.20px;background:#b65c98;border-radius:0.6px"></div>
<div class="r" style="left:438.90px;top:167.60px;width:6.20px;height:6.20px;background:#cf6ba6;border-radius:50%;border:0.7px solid #93427a"></div>
<span class="t" style="left:386.00px;top:178.03px;font-size:10px;line-height:10px;color:#8da7bc;transform:scaleX(1.1575);">Degree kp (0-52): 15</span>
<div class="r" style="left:387.50px;top:193.50px;width:154.00px;height:1.00px;background:#35566f;border-radius:0.5px"></div>
<div class="r" style="left:387.50px;top:193.40px;width:44.40px;height:1.20px;background:#b65c98;border-radius:0.6px"></div>
<div class="r" style="left:428.80px;top:190.90px;width:6.20px;height:6.20px;background:#cf6ba6;border-radius:50%;border:0.7px solid #93427a"></div>
<span class="t" style="left:386.00px;top:202.03px;font-size:10px;line-height:10px;color:#9bb2c6;transform:scaleX(1.1526);">Speed station (0-7068): 2837</span>
<div class="r" style="left:387.50px;top:216.50px;width:154.00px;height:1.00px;background:#35566f;border-radius:0.5px"></div>
<div class="r" style="left:387.50px;top:216.40px;width:62.20px;height:1.20px;background:#b65c98;border-radius:0.6px"></div>
<div class="r" style="left:446.60px;top:213.90px;width:6.20px;height:6.20px;background:#cf6ba6;border-radius:50%;border:0.7px solid #93427a"></div>
<span class="t" style="left:386.50px;top:224.84px;font-size:10px;line-height:10px;color:#7f9cb3;transform:scaleX(1.1635);">Number 3 (0-26:6</span>
<div class="r" style="left:387.50px;top:239.80px;width:154.00px;height:1.00px;background:#35566f;border-radius:0.5px"></div>
<div class="r" style="left:387.50px;top:239.70px;width:35.80px;height:1.20px;background:#b65c98;border-radius:0.6px"></div>
<div class="r" style="left:420.20px;top:237.20px;width:6.20px;height:6.20px;background:#cf6ba6;border-radius:50%;border:0.7px solid #93427a"></div>
<span class="t" style="left:385.60px;top:248.66px;font-size:8.2px;line-height:8.2px;color:#b6cada;transform:scaleX(1.1571);">Number 4 (0-0): 0</span>
<div class="r" style="left:387.50px;top:263.40px;width:154.00px;height:1.00px;background:#35566f;border-radius:0.5px"></div>
<div class="r" style="left:384.10px;top:260.80px;width:6.20px;height:6.20px;background:#cf6ba6;border-radius:50%;border:0.7px solid #93427a"></div>
<span class="t" style="left:384.60px;top:270.03px;font-size:10.6px;line-height:10.6px;color:#6f8ba3;transform:scaleX(1.0961);">Number 5 (0-0): 0</span>
<div class="r" style="left:387.50px;top:286.60px;width:154.00px;height:1.00px;background:#35566f;border-radius:0.5px"></div>
<div class="r" style="left:384.10px;top:284.00px;width:6.20px;height:6.20px;background:#cf6ba6;border-radius:50%;border:0.7px solid #93427a"></div>
<span class="t" style="left:385.60px;top:294.62px;font-size:8.6px;line-height:8.6px;color:#edf3f8;transform:scaleX(1.1033);">Number 6 (0-0): 0</span>
<div class="r" style="left:387.50px;top:309.20px;width:154.00px;height:1.00px;background:#35566f;border-radius:0.5px"></div>
<div class="r" style="left:384.10px;top:306.60px;width:6.20px;height:6.20px;background:#cf6ba6;border-radius:50%;border:0.7px solid #93427a"></div>
<span class="t" style="left:385.60px;top:316.66px;font-size:10.8px;line-height:10.8px;color:#f4f8fb;transform:scaleX(1.0769);">Number 7 (0-0): 0</span>
<div class="r" style="left:387.50px;top:332.60px;width:154.00px;height:1.00px;background:#35566f;border-radius:0.5px"></div>
<div class="r" style="left:384.10px;top:330.00px;width:6.20px;height:6.20px;background:#cf6ba6;border-radius:50%;border:0.7px solid #93427a"></div>
<span class="t" style="left:386.90px;top:341.06px;font-size:8.2px;line-height:8.2px;color:#5f7e98;transform:scaleX(1.1590);">Number (0-0): 0</span>
<div class="r" style="left:387.50px;top:356.00px;width:154.00px;height:1.00px;background:#35566f;border-radius:0.5px"></div>
<div class="r" style="left:384.10px;top:353.40px;width:6.20px;height:6.20px;background:#cf6ba6;border-radius:50%;border:0.7px solid #93427a"></div>
<div class="r" style="left:379.50px;top:364.30px;width:170.00px;height:0.80px;background:#365770;"></div>
<div class="r" style="left:397.20px;top:371.80px;width:39.30px;height:15.40px;background:#5a28a8;border:1.1px solid #ab9be1;border-radius:2.4px"></div>
<span class="t" style="left:412.13px;top:376.89px;font-size:6.8px;line-height:6.8px;color:#efe9fb;">M0</span>
<div class="r" style="left:444.80px;top:371.80px;width:39.30px;height:15.40px;background:linear-gradient(90deg,#6a3db4,#4f2398 50%,#6e46b6);border:1.1px solid #ab9be1;border-radius:2.4px"></div>
<span class="t" style="left:448.41px;top:378.30px;font-size:3.9px;line-height:3.9px;color:#efe9fb;">Self-defined key1</span>
<div class="r" style="left:492.30px;top:371.80px;width:40.00px;height:15.40px;background:linear-gradient(#8a6fcb,#6846b3);border:1.1px solid #ab9be1;border-radius:2.4px"></div>
<span class="t" style="left:494.45px;top:378.16px;font-size:4.2px;line-height:4.2px;color:#e9e1f8;">Self-defined key 2</span>
<div class="r" style="left:397.20px;top:391.40px;width:39.30px;height:15.40px;background:linear-gradient(#6c8a92,#51737c);border:1.1px solid #7f9aa2;border-radius:2.4px"></div>
<div class="r" style="left:444.80px;top:391.40px;width:39.30px;height:15.40px;background:linear-gradient(#6c8a92,#51737c);border:1.1px solid #7f9aa2;border-radius:2.4px"></div>
<div class="r" style="left:492.30px;top:391.40px;width:40.00px;height:15.40px;background:linear-gradient(#6c8a92,#557780);border:1.1px solid #7f9aa2;border-radius:2.4px"></div>
<span class="t" style="left:495.72px;top:397.90px;font-size:3.9px;line-height:3.9px;color:#d7e3e6;">Self-defined key 5</span>
<div class="r" style="left:397.20px;top:411.20px;width:39.30px;height:15.40px;background:linear-gradient(#9078cf,#7d62c2);border:1.1px solid #b7a6e4;border-radius:2.4px"></div>
<span class="t" style="left:400.27px;top:417.70px;font-size:3.9px;line-height:3.9px;color:#32205e;">Self-defined key 6</span>
<div class="r" style="left:444.80px;top:411.20px;width:39.30px;height:15.40px;background:#5a28a8;border:1.1px solid #ab9be1;border-radius:2.4px"></div>
<span class="t" style="left:449.37px;top:417.36px;font-size:4.6px;line-height:4.6px;color:#f4effc;">Self-defined 7</span>
<div class="r" style="left:492.30px;top:411.20px;width:40.00px;height:15.40px;background:#6737b6;border:1.1px solid #ab9be1;border-radius:2.4px"></div>
<span class="t" style="left:499.71px;top:417.46px;font-size:4.4px;line-height:4.4px;color:#b7a2e6;">Self-defined</span>
<div class="r" style="left:397.20px;top:431.20px;width:39.30px;height:15.40px;background:linear-gradient(#6b88a8,#587a90);border:1.1px solid #8ca5bd;border-radius:2.4px"></div>
<span class="t" style="left:397.99px;top:436.78px;font-size:5.8px;line-height:5.8px;color:#f1f5f9;">Custom key 9</span>
<div class="r" style="left:444.80px;top:431.20px;width:39.30px;height:15.40px;background:linear-gradient(#9a92b8,#827aa4);border:1.1px solid #b4aed0;border-radius:2.4px"></div>
<span class="t" style="left:450.10px;top:437.56px;font-size:4.2px;line-height:4.2px;color:#2b2446;">Self-defined10</span>
<div class="r" style="left:492.30px;top:431.20px;width:40.00px;height:15.40px;background:linear-gradient(#a29cbc,#8f88ac);border:1.1px solid #bdb7d6;border-radius:2.4px"></div>
<span class="t" style="left:496.77px;top:437.46px;font-size:4.4px;line-height:4.4px;color:#2f2848;">Self-defined 11</span>
<div class="r" style="left:397.20px;top:450.80px;width:39.30px;height:15.40px;background:#5a28a8;border:1.1px solid #ab9be1;border-radius:2.4px"></div>
<span class="t" style="left:401.20px;top:457.06px;font-size:4.4px;line-height:4.4px;color:#b7a2e6;">Self-defined 12</span>
<div class="r" style="left:444.80px;top:450.80px;width:39.30px;height:15.40px;background:#5a28a8;border:1.1px solid #ab9be1;border-radius:2.4px"></div>
<div class="r" style="left:492.30px;top:450.80px;width:40.00px;height:15.40px;background:#5a28a8;border:1.1px solid #ab9be1;border-radius:2.4px"></div>
<span class="t" style="left:496.77px;top:457.06px;font-size:4.4px;line-height:4.4px;color:#efe9fb;">Self-empty key</span>
<span class="t" style="left:400.20px;top:396.45px;font-size:6.2px;line-height:6.2px;color:#f3f7fa;transform:scaleX(0.8146);">Custom key 3 self-defining key 4</span>
<svg class="r" style="left:449.20px;top:455.40px;opacity:1" width="22.40" height="5.60" viewBox="0 0 40 10"><path transform="translate(0,0)" d="M1 2H9M5 0V10M1 5H9M2 8H8M1 2V8M9 2V8" stroke="#f4effc" stroke-width="1.3" fill="none"/><path transform="translate(10,0)" d="M1 1H9M3 1V9M7 1V9M1 5H9M1 9H9" stroke="#f4effc" stroke-width="1.3" fill="none"/><path transform="translate(20,0)" d="M0 3H10M5 0V6M2 6L0 10M8 6L10 10M2 8H8" stroke="#f4effc" stroke-width="1.3" fill="none"/><path transform="translate(30,0)" d="M1 1H4V9H1ZM6 1H9M6 5H9M6 9H9M7.5 1V9" stroke="#f4effc" stroke-width="1.3" fill="none"/></svg>
<span class="t" style="left:472.20px;top:455.71px;font-size:6.6px;line-height:6.6px;color:#f4effc;">13</span>
<div class="r" style="left:553.00px;top:100.00px;width:171.80px;height:13.00px;background:linear-gradient(#08192a 0,#0d2840 2.5px,#0e2b43 70%,#12334e 100%);"></div>
<span class="t" style="left:557.20px;top:103.86px;font-size:5.6px;line-height:5.6px;color:#d5e3ef;transform:scaleX(0.9348);">Next year 5:03</span>
<span class="t" style="left:656.00px;top:105.09px;font-size:5.8px;line-height:5.8px;color:#e4edf5;transform:scaleX(0.9832);">0.0K/s</span>
<svg class="r" style="left:673.30px;top:104.8px" width="46" height="7" viewBox="0 0 46 7"><path d="M0.6 2L3 4.6L1.7 6V1L3 2.4L0.6 5" stroke="#dfe9f2" stroke-width="0.7" fill="none"/><circle cx="8.6" cy="3.7" r="2.1" stroke="#dfe9f2" stroke-width="0.8" fill="none"/><path d="M8.6 2.5V3.8L9.5 4.3M6.4 1.3L7.3 0.6M10.8 1.3L9.9 0.6" stroke="#dfe9f2" stroke-width="0.6" fill="none"/><rect x="14" y="1.2" width="5" height="4.6" rx="0.8" fill="#dfe9f2"/><path d="M15 3.5H18" stroke="#12334e" stroke-width="0.9"/><path d="M22 5.8L30.3 0.8V5.8Z" fill="#dfe9f2"/><path d="M22 1H24.5" stroke="#dfe9f2" stroke-width="0.8"/><rect x="33" y="1" width="9.6" height="4.9" rx="2" stroke="#dfe9f2" stroke-width="0.9" fill="none"/><rect x="34.2" y="2.1" width="4.6" height="2.7" rx="1" fill="#dfe9f2"/><path d="M42.8 2.4L44.6 3.5L42.8 4.6Z" fill="#dfe9f2"/></svg>
<span class="t" style="left:558.40px;top:122.44px;font-size:4.8px;line-height:4.8px;color:#e3ebf2;transform:scaleX(0.8646);">Three</span>
<span class="t" style="left:581.90px;top:120.92px;font-size:8.6px;line-height:8.6px;color:#7d97ac;font-weight:normal;transform:scaleX(0.9631);">First</span>
<span class="t" style="left:613.60px;top:123.58px;font-size:4.4px;line-height:4.4px;color:#dfe8f0;transform:scaleX(0.8853);">Nine days</span>
<svg class="r" style="left:649.00px;top:120.80px;opacity:1" width="12.00" height="6.00" viewBox="0 0 20 10"><path transform="translate(0,0)" d="M1 2H9M5 0V10M1 5H9M2 8H8M1 2V8M9 2V8" stroke="#7f99ae" stroke-width="1.3" fill="none"/><path transform="translate(10,0)" d="M1 1H9M3 1V9M7 1V9M1 5H9M1 9H9" stroke="#7f99ae" stroke-width="1.3" fill="none"/></svg>
<span class="t" style="left:680.80px;top:121.65px;font-size:6.2px;line-height:6.2px;color:#f3f7fa;transform:scaleX(0.9848);">Day</span>
<div class="r" style="left:714.00px;top:120.00px;width:1.80px;height:1.80px;background:#e8eff6;border-radius:0.4px"></div>
<div class="r" style="left:714.00px;top:123.00px;width:1.80px;height:1.80px;background:#e8eff6;border-radius:0.4px"></div>
<div class="r" style="left:714.00px;top:126.00px;width:1.80px;height:1.80px;background:#e8eff6;border-radius:0.4px"></div>
<div class="r" style="left:679.60px;top:131.20px;width:24.00px;height:1.10px;background:#8d62a8;"></div>
<div class="r" style="left:554.60px;top:134.20px;width:169.60px;height:345.80px;border:0.9px solid #2b4c66;border-radius:2.5px;"></div>
<span class="t" style="left:600.90px;top:137.08px;font-size:6.4px;line-height:6.4px;color:#5e7b95;font-weight:normal;transform:scaleX(1.0368);">Chat (debug) is available</span>
<div class="r" style="left:555.20px;top:146.00px;width:168.50px;height:0.60px;background:#27496a;"></div>
<div class="r" style="left:555.20px;top:462.30px;width:168.50px;height:0.60px;background:#2b4d68;"></div>
<div class="r" style="left:556.70px;top:465.40px;width:126.00px;height:12.80px;background:#173b57;border:0.9px solid #5d7c95;border-radius:2px"></div>
<svg class="r" style="left:559.20px;top:468.90px;opacity:1" width="24.00" height="6.00" viewBox="0 0 40 10"><path transform="translate(0,0)" d="M1 2H9M5 0V10M1 5H9M2 8H8M1 2V8M9 2V8" stroke="#6e8aa2" stroke-width="1.3" fill="none"/><path transform="translate(10,0)" d="M1 1H9M3 1V9M7 1V9M1 5H9M1 9H9" stroke="#6e8aa2" stroke-width="1.3" fill="none"/><path transform="translate(20,0)" d="M0 3H10M5 0V6M2 6L0 10M8 6L10 10M2 8H8" stroke="#6e8aa2" stroke-width="1.3" fill="none"/><path transform="translate(30,0)" d="M1 1H4V9H1ZM6 1H9M6 5H9M6 9H9M7.5 1V9" stroke="#6e8aa2" stroke-width="1.3" fill="none"/></svg>
<div class="r" style="left:686.30px;top:465.40px;width:35.30px;height:13.20px;background:#5a28a8;border:0.9px solid #a793dc;border-radius:2px"></div>
<span class="t" style="left:696.91px;top:469.09px;font-size:5.8px;line-height:5.8px;color:#e9e1f8;">Send</span>
</div></div></body></html>
